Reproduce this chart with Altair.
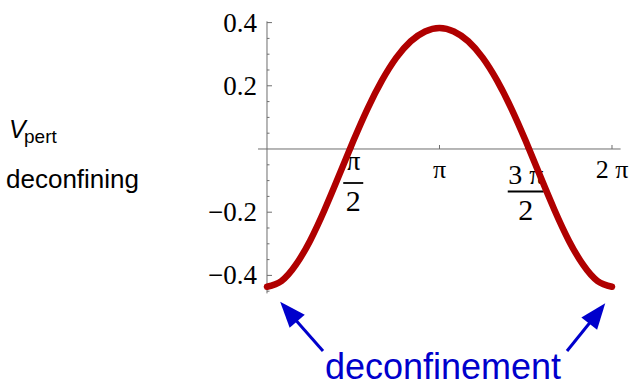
import altair as alt
import numpy as np
import pandas as pd

PI = np.pi

# Perturbative potential over one period, sampled every pi/12
phase_steps = list(range(25))
v_pert = [-0.436, -0.418, -0.367, -0.290, -0.193, -0.085, 0.025, 0.128, 0.217,
          0.289, 0.341, 0.372, 0.383, 0.372, 0.341, 0.289, 0.217, 0.128, 0.025,
          -0.085, -0.193, -0.290, -0.367, -0.418, -0.436]

# Axis ticks
y_major = [-0.4, -0.2, 0.2, 0.4]
y_major_labels = ["\u22120.4", "\u22120.2", "0.2", "0.4"]
y_minor = [-0.45, -0.35, -0.3, -0.25, -0.15, -0.1, -0.05,
           0.05, 0.1, 0.15, 0.25, 0.3, 0.35]
x_major = [0.5, 1.0, 1.5, 2.0]          # in units of pi
x_plain_at = [1.0, 2.0]
x_plain_labels = ["\u03c0", "2 \u03c0"]
x_frac_at = [0.5, 1.5]
x_frac_num = ["\u03c0", "3 \u03c0"]
x_frac_den = ["2", "2"]

W, H = 629, 383
# scale domains chosen so the axes cross where the figure puts them
X_DOM = [-1.5478 * PI, 2.0986 * PI]
Y_DOM = [-0.7405, 0.4715]
AXIS_X = [-0.052 * PI, 2.05 * PI]
AXIS_Y = [-0.457, 0.404]

xs = alt.Scale(domain=X_DOM, nice=False, zero=False)
ys = alt.Scale(domain=Y_DOM, nice=False, zero=False)

AXIS_COLOR = "#6e6e6e"
SERIF = "Liberation Serif"
SANS = "Liberation Sans"

curve_df = pd.DataFrame({"x": [k * PI / 12 for k in phase_steps], "v": v_pert})

curve = alt.Chart(curve_df).mark_line(
    color="#b00000", strokeWidth=6.5, strokeCap="round", strokeJoin="round",
    interpolate="natural"
).encode(
    x=alt.X("x:Q", scale=xs, axis=None),
    y=alt.Y("v:Q", scale=ys, axis=None),
)

# axis lines
x_axis = alt.Chart(pd.DataFrame({"x": [AXIS_X[0]], "x2": [AXIS_X[1]], "y": [0.0]})).mark_rule(
    color=AXIS_COLOR, strokeWidth=1
).encode(x=alt.X("x:Q", scale=xs, axis=None), x2="x2:Q", y=alt.Y("y:Q", scale=ys, axis=None))

y_axis = alt.Chart(pd.DataFrame({"x": [0.0], "y": [AXIS_Y[0]], "y2": [AXIS_Y[1]]})).mark_rule(
    color=AXIS_COLOR, strokeWidth=1
).encode(x=alt.X("x:Q", scale=xs, axis=None), y=alt.Y("y:Q", scale=ys, axis=None), y2="y2:Q")

# y ticks (pointing right of the axis)
ymaj_df = pd.DataFrame({"x": 0.0, "y": y_major, "label": y_major_labels})
ymin_df = pd.DataFrame({"x": 0.0, "y": y_minor})

y_major_ticks = alt.Chart(ymaj_df).mark_rule(color=AXIS_COLOR, strokeWidth=1, x2Offset=5).encode(
    x=alt.X("x:Q", scale=xs, axis=None), x2="x:Q", y=alt.Y("y:Q", scale=ys, axis=None))
y_minor_ticks = alt.Chart(ymin_df).mark_rule(color=AXIS_COLOR, strokeWidth=1, x2Offset=2.5).encode(
    x=alt.X("x:Q", scale=xs, axis=None), x2="x:Q", y=alt.Y("y:Q", scale=ys, axis=None))

y_labels = alt.Chart(ymaj_df).mark_text(
    font=SERIF, fontSize=27, align="right", baseline="middle", dx=-10, dy=1, color="black"
).encode(x=alt.X("x:Q", scale=xs, axis=None), y=alt.Y("y:Q", scale=ys, axis=None), text="label:N")

# x ticks (pointing up from the axis)
xmaj_df = pd.DataFrame({"x": [t * PI for t in x_major], "y": 0.0})
x_major_ticks = alt.Chart(xmaj_df).mark_rule(color=AXIS_COLOR, strokeWidth=1, y2Offset=-4).encode(
    x=alt.X("x:Q", scale=xs, axis=None), y=alt.Y("y:Q", scale=ys, axis=None), y2="y:Q")

xplain_df = pd.DataFrame({"x": [t * PI for t in x_plain_at], "y": 0.0, "label": x_plain_labels})
x_plain = alt.Chart(xplain_df).mark_text(
    font=SERIF, fontSize=26, align="center", baseline="middle", dy=21, color="black"
).encode(x=alt.X("x:Q", scale=xs, axis=None), y=alt.Y("y:Q", scale=ys, axis=None), text="label:N")

frac_df = pd.DataFrame({
    "x": [t * PI for t in x_frac_at], "y": 0.0,
    "num": x_frac_num, "den": x_frac_den,
})
frac_num_1 = alt.Chart(frac_df.iloc[[0]]).mark_text(
    font=SERIF, fontSize=28, align="center", baseline="middle", dy=13, color="black"
).encode(x=alt.X("x:Q", scale=xs, axis=None), y=alt.Y("y:Q", scale=ys, axis=None), text="num:N")
frac_bar_1 = alt.Chart(frac_df.iloc[[0]]).mark_rule(
    color="black", strokeWidth=1.8, xOffset=-10, x2Offset=10, yOffset=34, y2Offset=34
).encode(x=alt.X("x:Q", scale=xs, axis=None), x2="x:Q", y=alt.Y("y:Q", scale=ys, axis=None))
frac_den_1 = alt.Chart(frac_df.iloc[[0]]).mark_text(
    font=SERIF, fontSize=30, align="center", baseline="middle", dy=53, color="black"
).encode(x=alt.X("x:Q", scale=xs, axis=None), y=alt.Y("y:Q", scale=ys, axis=None), text="den:N")

frac_num_2 = alt.Chart(frac_df.iloc[[1]]).mark_text(
    font=SERIF, fontSize=28, align="center", baseline="middle", dy=27, color="black"
).encode(x=alt.X("x:Q", scale=xs, axis=None), y=alt.Y("y:Q", scale=ys, axis=None), text="num:N")
frac_bar_2 = alt.Chart(frac_df.iloc[[1]]).mark_rule(
    color="black", strokeWidth=1.8, xOffset=-18, x2Offset=18, yOffset=42.5, y2Offset=42.5
).encode(x=alt.X("x:Q", scale=xs, axis=None), x2="x:Q", y=alt.Y("y:Q", scale=ys, axis=None))
frac_den_2 = alt.Chart(frac_df.iloc[[1]]).mark_text(
    font=SERIF, fontSize=30, align="center", baseline="middle", dy=62, color="black"
).encode(x=alt.X("x:Q", scale=xs, axis=None), y=alt.Y("y:Q", scale=ys, axis=None), text="den:N")

# left-hand caption
v_main = alt.Chart(pd.DataFrame({"t": ["V"]})).mark_text(
    font=SANS, fontSize=25, fontStyle="italic", align="left", baseline="alphabetic", color="black"
).encode(x=alt.value(9), y=alt.value(138), text="t:N")
v_sub = alt.Chart(pd.DataFrame({"t": ["pert"]})).mark_text(
    font=SANS, fontSize=19, align="left", baseline="alphabetic", color="black"
).encode(x=alt.value(24), y=alt.value(143), text="t:N")
v_word = alt.Chart(pd.DataFrame({"t": ["deconfining"]})).mark_text(
    font=SANS, fontSize=26, align="left", baseline="alphabetic", color="black"
).encode(x=alt.value(6), y=alt.value(188), text="t:N")

# blue annotation with two arrows
BLUE = "#0000cc"
note = alt.Chart(pd.DataFrame({"t": ["deconfinement"]})).mark_text(
    font=SANS, fontSize=36, align="center", baseline="alphabetic", color=BLUE
).encode(x=alt.value(443), y=alt.value(379), text="t:N")

shafts = alt.layer(
    alt.Chart(pd.DataFrame({"t": [0]})).mark_rule(color=BLUE, strokeWidth=3).encode(
        x=alt.value(323), y=alt.value(351), x2=alt.value(293), y2=alt.value(317)),
    alt.Chart(pd.DataFrame({"t": [0]})).mark_rule(color=BLUE, strokeWidth=3).encode(
        x=alt.value(567), y=alt.value(351), x2=alt.value(592), y2=alt.value(320)),
)
HEAD = "M0,-1L0.667,0.733L-0.667,0.733Z"
heads = alt.layer(
    alt.Chart(pd.DataFrame({"t": [0]})).mark_point(
        shape=HEAD, size=900, filled=True, color=BLUE, opacity=1, angle=319
    ).encode(x=alt.value(290), y=alt.value(313)),
    alt.Chart(pd.DataFrame({"t": [0]})).mark_point(
        shape=HEAD, size=900, filled=True, color=BLUE, opacity=1, angle=38
    ).encode(x=alt.value(596), y=alt.value(315)),
)

chart = alt.layer(
    x_axis, y_axis, y_minor_ticks, y_major_ticks, x_major_ticks,
    y_labels, x_plain,
    frac_num_1, frac_bar_1, frac_den_1, frac_num_2, frac_bar_2, frac_den_2,
    curve,
    v_main, v_sub, v_word, note, shafts, heads,
).properties(
    width=W, height=H, autosize=alt.AutoSizeParams(type="none"), padding=0,
    background="white",
).configure_view(strokeWidth=0)

chart.save("out.html", embed_options={"renderer": "svg", "actions": False})
